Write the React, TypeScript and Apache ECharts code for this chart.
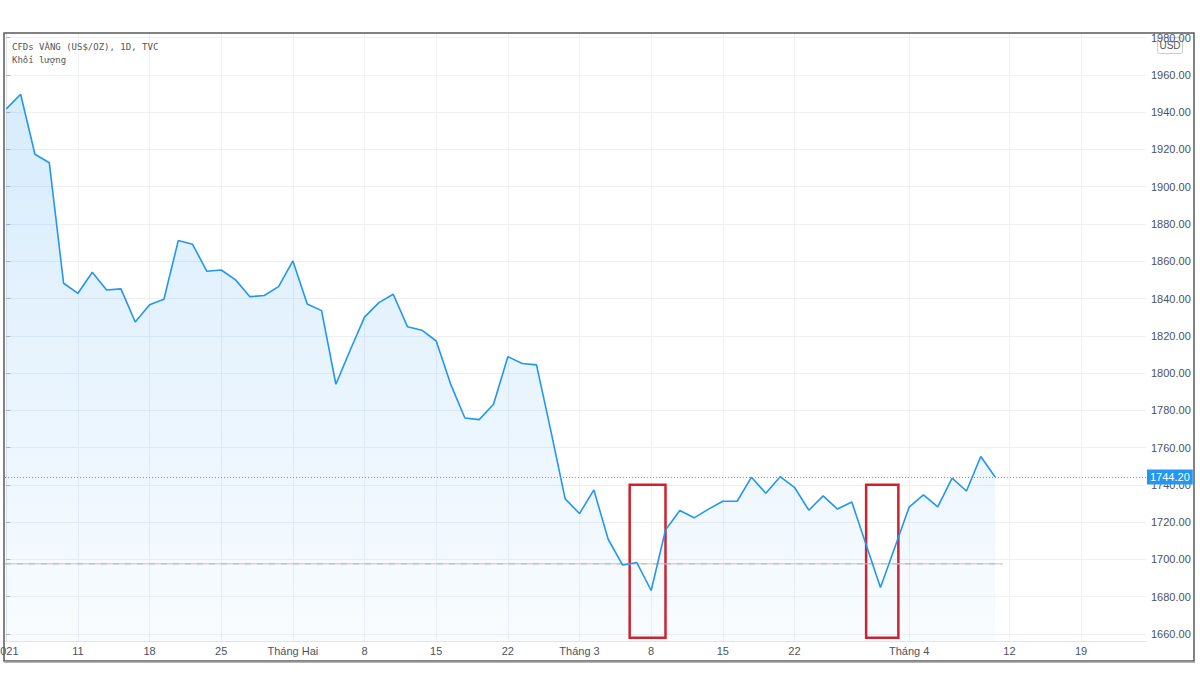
import React, { useEffect, useRef } from 'react';
import * as echarts from 'echarts';

// Daily close, index 0 = 4 Jan 2021 ... index 69 = 9 Apr 2021 (trading days)
const prices = [
  1941.8, 1949.6, 1917.4, 1912.9, 1848.2, 1842.8, 1854.1, 1844.6, 1845.2, 1827.4,
  1836.6, 1839.6, 1871.1, 1869.1, 1854.6, 1855.3, 1850.0, 1841.0, 1841.6, 1846.4,
  1860.2, 1837.1, 1833.5, 1794.0, 1812.4, 1830.0, 1837.8, 1842.3, 1824.8, 1823.0,
  1817.2, 1794.2, 1775.9, 1775.0, 1783.3, 1808.8, 1805.1, 1804.4, 1769.0, 1732.5,
  1724.6, 1737.3, 1710.8, 1697.0, 1698.3, 1683.3, 1715.8, 1726.2, 1722.3, 1727.0,
  1731.2, 1731.2, 1744.1, 1735.5, 1744.4, 1738.7, 1726.4, 1734.1, 1727.0, 1730.8,
  1707.9, 1684.9, 1706.4, 1728.0, 1734.6, 1728.2, 1743.6, 1736.7, 1755.2, 1744.2,
];

const xTickIdx = [0, 5, 10, 15, 20, 25, 30, 35, 40, 45, 50, 55, 63, 70, 75];
const xTickLabels = ['2021', '11', '18', '25', 'Tháng Hai', '8', '15', '22', 'Tháng 3', '8', '15', '22', 'Tháng 4', '12', '19'];
const yTicks = [1660, 1680, 1700, 1720, 1740, 1760, 1780, 1800, 1820, 1840, 1860, 1880, 1900, 1920, 1940, 1960, 1980];

const lastPrice = 1744.2;
const refLevel = 1697.6;
const refEndIdx = 69.5;
// highlight boxes in data coordinates: [xStartIdx, xEndIdx, yTop, yBottom]
const boxA = [43.5, 46.0, 1740.0, 1657.9];
const boxB = [60.0, 62.25, 1740.0, 1657.9];

const titleText = 'CFDs VÀNG (US$/OZ), 1D, TVC';
const subText = 'Khối lượng';
const currencyText = 'USD';

export default function App() {
  const ref = useRef<HTMLDivElement>(null);
  useEffect(() => {
    if (!ref.current) return;
    const chart = echarts.init(ref.current, null, { renderer: 'svg' });
    const labelMap: Record<number, string> = {};
    xTickIdx.forEach((v, i) => (labelMap[v] = xTickLabels[i]));
    const xMin = -0.09;
    const refData = [[xMin, refLevel], [refEndIdx, refLevel]];
    chart.setOption({
      animation: false,
      backgroundColor: '#ffffff',
      grid: { left: 5, right: 54, top: 33, bottom: 49, containLabel: false, outerBoundsMode: 'none' },
      xAxis: {
        type: 'value',
        min: xMin,
        max: 79.53,
        axisLine: { show: true, lineStyle: { color: '#e0e3eb' } },
        axisTick: { show: false, customValues: xTickIdx },
        axisLabel: {
          customValues: xTickIdx,
          formatter: (v: number) => labelMap[Math.round(v)] ?? '',
          color: '#4c525e',
          fontFamily: 'Liberation Sans, Arial, sans-serif',
          fontSize: 11,
          margin: 4,
        },
        splitLine: { show: true, lineStyle: { color: '#eef0f4', width: 1 } },
      },
      yAxis: {
        type: 'value',
        position: 'right',
        min: 1656.2,
        max: 1982.5,
        axisLine: { show: true, lineStyle: { color: '#e0e3eb' } },
        axisTick: { show: true, length: 4, customValues: yTicks, lineStyle: { color: '#b2b5be' } },
        axisLabel: {
          customValues: yTicks,
          formatter: (v: number) => v.toFixed(2),
          color: '#4c525e',
          fontFamily: 'Liberation Sans, Arial, sans-serif',
          fontSize: 11,
          margin: 5,
        },
        splitLine: { show: true, lineStyle: { color: '#eef0f4', width: 1 } },
      },
      series: [
        {
          type: 'line',
          data: refData,
          symbol: 'none',
          silent: true,
          z: 1,
          lineStyle: { color: '#f1b3b7', width: 1, type: 'solid' },
        },
        {
          type: 'line',
          data: refData,
          symbol: 'none',
          silent: true,
          z: 2,
          lineStyle: { color: '#8fcfc6', width: 1, type: [6, 6] },
        },
        {
          type: 'line',
          data: prices.map((v, i) => [i, v]),
          symbol: 'none',
          z: 3,
          lineStyle: { color: '#2196f3', width: 1.6 },
          areaStyle: {
            origin: 'start',
            color: new echarts.graphic.LinearGradient(0, 0, 0, 1, [
              { offset: 0, color: 'rgba(33,150,243,0.26)' },
              { offset: 1, color: 'rgba(33,150,243,0.04)' },
            ]),
          },
          markLine: {
            silent: true,
            symbol: ['none', 'none'],
            data: [{ yAxis: lastPrice }],
            lineStyle: { type: [1, 2], color: '#5aa8ae', width: 1 },
            label: {
              position: 'end',
              distance: 1,
              formatter: () => lastPrice.toFixed(2),
              backgroundColor: '#2196f3',
              color: '#ffffff',
              padding: [2, 3, 2, 3],
              fontSize: 11,
              fontFamily: 'Liberation Sans, Arial, sans-serif',
            },
          },
          markArea: {
            silent: true,
            itemStyle: { color: 'rgba(0,0,0,0)', borderColor: '#d0212b', borderWidth: 2.5 },
            data: [
              [{ xAxis: boxA[0], yAxis: boxA[2] }, { xAxis: boxA[1], yAxis: boxA[3] }],
              [{ xAxis: boxB[0], yAxis: boxB[2] }, { xAxis: boxB[1], yAxis: boxB[3] }],
            ],
          },
        },
      ],
      graphic: [
        {
          type: 'text',
          left: 12,
          top: 42,
          z: 10,
          style: { text: titleText, fill: '#555', font: '9px "DejaVu Sans Mono", monospace' },
        },
        {
          type: 'text',
          left: 12,
          top: 55,
          z: 10,
          style: { text: subText, fill: '#555', font: '9px "DejaVu Sans Mono", monospace' },
        },
        {
          type: 'group',
          left: 1157,
          top: 37,
          z: 20,
          children: [
            { type: 'rect', shape: { x: 0, y: 0, width: 25, height: 16, r: 2 }, style: { fill: '#ffffff', stroke: '#c8cbd2', lineWidth: 1 } },
            { type: 'text', x: 12.5, y: 8, style: { text: currencyText, fill: '#555', font: '10px "Liberation Sans", Arial, sans-serif', align: 'center', verticalAlign: 'middle' } },
          ],
        },
        {
          type: 'rect',
          z: 30,
          silent: true,
          shape: { x: 4, y: 33, width: 1190, height: 628 },
          style: { fill: 'none', stroke: '#5a5a5a', lineWidth: 1.5 },
        },
        {
          type: 'line',
          z: 30,
          silent: true,
          shape: { x1: 4, y1: 662, x2: 1195, y2: 662 },
          style: { stroke: '#9a9a9a', lineWidth: 1.5 },
        },
      ],
    });
    return () => chart.dispose();
  }, []);
  return (
    <div
      ref={ref}
      style={{ position: 'fixed', left: 0, top: 0, width: 1200, height: 690, background: '#fff' }}
    />
  );
}
